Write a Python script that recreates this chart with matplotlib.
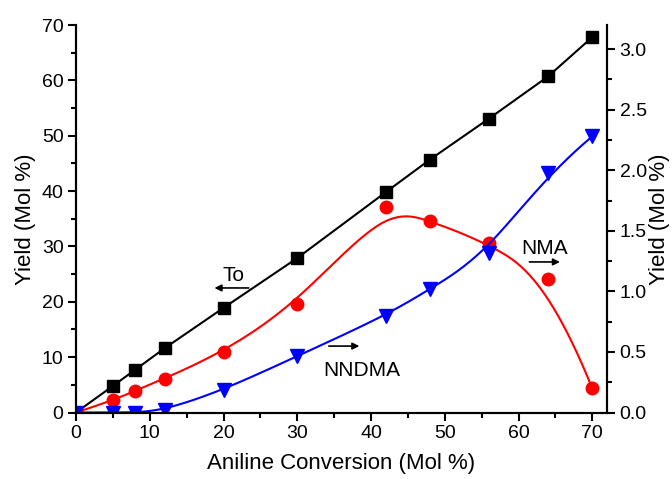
import numpy as np
import matplotlib
matplotlib.use("Agg")
import matplotlib.pyplot as plt
from matplotlib.ticker import MultipleLocator, FormatStrFormatter

plt.rcParams['font.family'] = ['Liberation Sans', 'DejaVu Sans']

# données
conversion = [0, 5, 8, 12, 20, 30, 42, 48, 56, 64, 70]
to_yield = [0, 4.8, 7.7, 11.6, 18.9, 27.9, 39.8, 45.7, 53.1, 60.7, 67.8]       # axe gauche
nma_yield = [0, 0.10, 0.18, 0.28, 0.50, 0.90, 1.70, 1.58, 1.40, 1.10, 0.20]   # axe droit
nndma_yield = [0, 0.0, 0.0, 0.02, 0.185, 0.466, 0.80, 1.02, 1.32, 1.976, 2.28]  # axe droit


def bspline(px, py, k=3, num=400):
    # B-spline cubique (points = points de contrôle), comme dans Origin
    px = np.asarray(px, float)
    py = np.asarray(py, float)
    n = len(px)
    t = np.concatenate([np.zeros(k), np.linspace(0, 1, n - k + 1), np.ones(k)])
    u = np.linspace(0, 1, num)
    u[-1] -= 1e-9
    N = np.zeros((num, len(t) - 1))
    for i in range(len(t) - 1):
        N[:, i] = (t[i] <= u) & (u < t[i + 1])
    for d in range(1, k + 1):
        Nn = np.zeros((num, len(t) - 1 - d))
        for i in range(len(t) - 1 - d):
            a = 0
            b = 0
            if t[i + d] - t[i] > 0:
                a = (u - t[i]) / (t[i + d] - t[i]) * N[:, i]
            if t[i + d + 1] - t[i + 1] > 0:
                b = (t[i + d + 1] - u) / (t[i + d + 1] - t[i + 1]) * N[:, i + 1]
            Nn[:, i] = a + b
        N = Nn
    return N @ px, N @ py


fig = plt.figure(figsize=(6.72, 4.79), dpi=100)
ax = fig.add_axes([0.1131, 0.1388, 0.7902, 0.809])
ax2 = ax.twinx()

ax.plot(conversion, to_yield, color='black', lw=1.5, marker='s', ms=8.5, zorder=3)

xs, ys = bspline(conversion, nma_yield)
ax2.plot(xs, ys, color='red', lw=1.5)
ax2.plot(conversion, nma_yield, ls='none', color='red', marker='o', ms=9)

xs, ys = bspline(conversion, nndma_yield)
ax2.plot(xs, ys, color='blue', lw=1.5)
ax2.plot(conversion, nndma_yield, ls='none', color='blue', marker='v', ms=9.5)

ax.set_xlim(0, 72)
ax.set_ylim(0, 70)
ax2.set_ylim(0, 3.2)

ax.xaxis.set_major_locator(MultipleLocator(10))
ax.xaxis.set_minor_locator(MultipleLocator(5))
ax.yaxis.set_major_locator(MultipleLocator(10))
ax.yaxis.set_minor_locator(MultipleLocator(5))
ax2.yaxis.set_major_locator(MultipleLocator(0.5))
ax2.yaxis.set_minor_locator(MultipleLocator(0.25))
ax2.yaxis.set_major_formatter(FormatStrFormatter('%.1f'))

for a in (ax, ax2):
    a.spines['top'].set_visible(False)
    for s in a.spines.values():
        s.set_linewidth(1.5)
    a.tick_params(which='major', direction='out', length=6, width=1.5, labelsize=14, pad=3)
    a.tick_params(which='minor', direction='out', length=3.5, width=1.5)

ax.set_xlabel("Aniline Conversion (Mol %)", fontsize=16, labelpad=8)
ax.set_ylabel("Yield (Mol %)", fontsize=16, labelpad=4)
ax2.set_ylabel("Yield (Mol %)", fontsize=16, labelpad=2)

# annotations avec flèches
ax.text(21.4, 24.8, "To", fontsize=15, ha='center', va='center')
ax.annotate("", xy=(18.4, 22.5), xytext=(23.8, 22.5),
            arrowprops=dict(arrowstyle='-|>', color='black', lw=1.2, mutation_scale=10))
ax.text(38.8, 7.6, "NNDMA", fontsize=15, ha='center', va='center')
ax.annotate("", xy=(38.8, 12.0), xytext=(33.9, 12.0),
            arrowprops=dict(arrowstyle='-|>', color='black', lw=1.2, mutation_scale=10))
ax.text(63.5, 29.7, "NMA", fontsize=15, ha='center', va='center')
ax.annotate("", xy=(66.0, 27.2), xytext=(61.1, 27.2),
            arrowprops=dict(arrowstyle='-|>', color='black', lw=1.2, mutation_scale=10))

plt.savefig("out.png", dpi=100)
